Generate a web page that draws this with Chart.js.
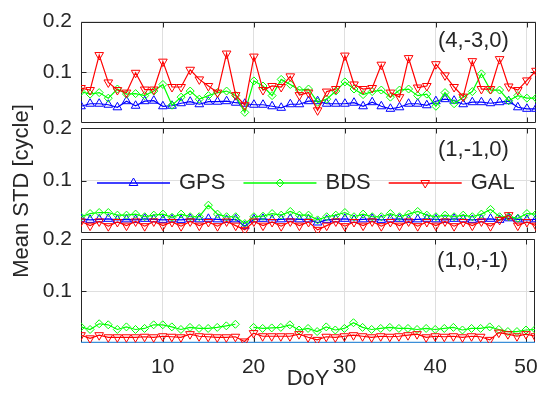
<!DOCTYPE html>
<html><head><meta charset="utf-8">
<script src="https://cdn.jsdelivr.net/npm/chart.js@4.4.0/dist/chart.umd.min.js"></script>
<style>
html,body{margin:0;padding:0;background:#fff;}
#wrap{position:relative;width:550px;height:395px;background:#fff;}
#wrap canvas{position:absolute;left:0;top:0;}
</style></head><body>
<div id="wrap">
<canvas id="c1" width="550" height="395"></canvas>
<canvas id="c2" width="550" height="395"></canvas>
<canvas id="c3" width="550" height="395"></canvas>
</div>
<script>
// ---------------- data ----------------
const days = [1,2,3,4,5,6,7,8,9,10,11,12,13,14,15,16,17,18,19,20,21,22,23,24,25,26,27,28,29,30,31,32,33,34,35,36,37,38,39,40,41,42,43,44,45,46,47,48,49,50,51];
const xTicks = [10,20,30,40,50];
const yTicks = [0.1,0.2];
const seriesNames = ['GPS','BDS','GAL'];
const panelLabels = ['(4,-3,0)','(1,-1,0)','(1,0,-1)'];
const xTitle = 'DoY';
const yTitle = 'Mean STD [cycle]';

// panel 1 (4,-3,0)
const gps1 = [0.033,0.038,0.038,0.036,0.031,0.043,0.034,0.043,0.044,0.033,
  0.034,0.039,0.042,0.037,0.042,0.042,0.043,0.040,0.038,0.036,
  0.036,0.033,0.030,0.037,0.037,0.043,0.043,0.038,0.038,0.038,
  0.040,0.033,0.041,0.033,0.028,0.031,0.038,0.038,0.035,0.043,
  0.047,0.044,0.037,0.041,0.041,0.039,0.041,0.043,0.031,0.028,0.028];
const bds1 = [0.062,0.057,0.060,0.049,0.067,0.057,0.058,0.054,0.063,0.076,
  0.035,0.051,0.063,0.047,0.054,0.060,0.063,0.054,0.021,0.083,
  0.073,0.054,0.086,0.076,0.065,0.067,0.041,0.047,0.063,0.081,
  0.067,0.056,0.062,0.065,0.051,0.065,0.067,0.054,0.057,0.033,
  0.060,0.038,0.051,0.062,0.097,0.065,0.065,0.044,0.054,0.049,0.049];
const gal1 = [0.069,0.065,0.134,0.080,0.065,0.060,0.099,0.066,0.066,0.121,
  0.071,0.071,0.105,0.086,0.073,0.060,0.137,0.055,0.035,0.131,
  0.065,0.073,0.071,0.092,0.055,0.060,0.025,0.062,0.067,0.133,
  0.076,0.067,0.069,0.115,0.060,0.051,0.128,0.070,0.073,0.116,
  0.094,0.071,0.052,0.122,0.067,0.067,0.126,0.072,0.065,0.084,0.103];

// panel 2 (1,-1,0)
const gps2 = [0.027,0.025,0.026,0.027,0.025,0.026,0.025,0.027,0.026,0.025,
  0.026,0.025,0.027,0.026,0.027,0.026,0.025,0.026,0.013,0.026,
  0.027,0.025,0.026,0.027,0.026,0.026,0.020,0.025,0.026,0.027,
  0.025,0.026,0.027,0.025,0.026,0.027,0.025,0.026,0.027,0.026,
  0.025,0.027,0.026,0.025,0.026,0.027,0.025,0.028,0.026,0.025,0.026];
const bds2 = [0.031,0.037,0.039,0.039,0.034,0.034,0.036,0.031,0.034,0.036,
  0.030,0.036,0.031,0.031,0.053,0.036,0.031,0.031,0.018,0.031,
  0.032,0.037,0.034,0.041,0.034,0.034,0.025,0.031,0.034,0.039,
  0.031,0.036,0.031,0.031,0.037,0.031,0.036,0.041,0.034,0.031,
  0.034,0.031,0.034,0.031,0.036,0.045,0.031,0.031,0.028,0.037,0.036];
const gal2 = [0.022,0.014,0.022,0.013,0.021,0.014,0.022,0.013,0.022,0.014,
  0.021,0.013,0.022,0.014,0.021,0.013,0.022,0.014,0.006,0.022,
  0.014,0.021,0.013,0.022,0.014,0.021,0.006,0.014,0.022,0.013,
  0.021,0.014,0.022,0.013,0.021,0.014,0.022,0.013,0.021,0.014,
  0.022,0.013,0.021,0.014,0.022,0.013,0.025,0.034,0.014,0.021,0.014];

// panel 3 (1,0,-1)
const gps3 = [0,0,0,0,0,0,0,0,0,0,0,0,0,0,0,0,0,0,0,0,0,0,0,0,0,0,0,0,0,0,0,0,0,0,0,0,0,0,0,0,0,0,0,0,0,0,0,0,0,0,0];
const bds3 = [0.031,0.026,0.037,0.035,0.026,0.031,0.026,0.028,0.035,0.035,
  0.031,0.026,0.030,0.028,0.028,0.030,0.033,0.036,null,0.030,
  0.028,0.029,0.030,0.035,0.025,0.028,0.022,0.031,0.025,0.028,
  0.039,0.030,0.026,0.028,0.030,0.028,0.028,0.026,0.028,0.026,
  0.028,0.030,0.025,0.028,0.028,0.031,0.026,0.022,0.022,0.025,0.026];
const gal3 = [0.015,0.009,0.015,0.011,0.011,0.011,0.011,0.012,0.011,0.013,
  0.012,0.011,0.017,0.013,0.012,0.011,0.011,0.012,0.003,0.019,
  0.013,0.013,0.013,0.013,0.017,0.011,0.006,0.012,0.011,0.013,
  0.015,0.013,0.011,0.013,0.012,0.013,0.015,0.017,0.011,0.013,
  0.012,0.013,0.011,0.013,0.012,0.006,0.020,0.017,0.013,0.017,0.013];

// ---------------- styling ----------------
const FONT = "'Liberation Sans', Arial, Helvetica, sans-serif";
const TXT = '#262626';
const GRID = '#dfdfdf';
Chart.defaults.font.family = FONT;
Chart.defaults.color = TXT;

const styles = [
  {color:'#0000ff', pointStyle:'triangle', rotation:0, radius:5, order:3},
  {color:'#00ff00', pointStyle:'rectRot', rotation:0, radius:4, order:2},
  {color:'#ff0000', pointStyle:'triangle', rotation:180, radius:5, order:1}
];

function pts(arr){ return days.map((d,i)=>({x:d, y:arr[i]})); }

function makeDs(arrs, gpsFlat){
  return arrs.map((a,i)=>{
    const s = styles[i];
    const ds = {
      label: seriesNames[i], data: pts(a),
      borderColor: s.color, backgroundColor: 'rgba(0,0,0,0)',
      borderWidth: 1.2, pointStyle: s.pointStyle, rotation: s.rotation,
      pointRadius: s.radius, pointBorderWidth: 1,
      pointBorderColor: s.color, pointBackgroundColor: 'rgba(0,0,0,0)',
      tension: 0, spanGaps: false, order: s.order
    };
    if (i === 0 && gpsFlat) {
      ds.borderColor = '#3b8ed8'; ds.borderWidth = 2.5; ds.pointRadius = 0;
    }
    return ds;
  });
}

const framePlugin = {
  id: 'panelFrame',
  beforeDatasetsDraw(chart, args, opts){
    const {ctx, chartArea:a} = chart;
    const xs = chart.scales.x, ys = chart.scales.y;
    ctx.save();
    ctx.strokeStyle = TXT; ctx.lineWidth = 1;
    const L = Math.round(a.left)+0.5, R = Math.round(a.right)-0.5;
    const T = Math.round(a.top)+0.5, B = Math.round(a.bottom)-0.5;
    ctx.beginPath();
    ctx.rect(L, T, R-L, B-T);
    xTicks.forEach(v=>{
      const x = Math.round(xs.getPixelForValue(v))+0.5;
      ctx.moveTo(x, T); ctx.lineTo(x, T+5);
      ctx.moveTo(x, B); ctx.lineTo(x, B-5);
    });
    yTicks.forEach(v=>{
      const y = Math.round(ys.getPixelForValue(v))+0.5;
      ctx.moveTo(L, y); ctx.lineTo(L+5, y);
      ctx.moveTo(R, y); ctx.lineTo(R-5, y);
    });
    ctx.stroke();
    ctx.restore();
  },
  afterDatasetsDraw(chart, args, opts){
    const {ctx, chartArea:a} = chart;
    ctx.save();
    // panel label
    ctx.fillStyle = TXT;
    ctx.font = '22px ' + FONT;
    ctx.textAlign = 'left'; ctx.textBaseline = 'middle';
    ctx.fillText(opts.label, a.right - 98, a.top + opts.labelDy);
    // inside legend
    if (opts.legend) {
      let x = a.left + 16;
      const y = a.top + 55;
      chart.data.datasets.forEach((ds, i)=>{
        const s = styles[i];
        ctx.save();
        ctx.strokeStyle = s.color;
        ctx.lineWidth = 1.3;
        ctx.beginPath();
        ctx.moveTo(x, y);
        ctx.lineTo(x + 73, y);
        ctx.stroke();
        ctx.fillStyle = 'rgba(255,255,255,0)';
        ctx.lineWidth = 1;
        Chart.helpers.drawPoint(ctx, {pointStyle:s.pointStyle, rotation:s.rotation, radius:s.radius, borderWidth:1}, x + 36.5, y);
        ctx.restore();
        ctx.fillStyle = TXT;
        ctx.font = '22px ' + FONT;
        ctx.textAlign = 'left'; ctx.textBaseline = 'middle';
        ctx.fillText(ds.label, x + 82, y);
        x += 82 + ctx.measureText(ds.label).width + 18;
      });
    }
    ctx.restore();
  }
};

function yScale(width){
  return {
    type:'linear', min:0, max:0.2,
    afterBuildTicks: s => { s.ticks = yTicks.map(v=>({value:v})); },
    afterFit: s => { s.width = width; },
    grid:{color:GRID, drawTicks:false}, border:{display:false},
    ticks:{padding:9, font:{size:21}, color:TXT, callback: v => v.toFixed(1)}
  };
}
function xScale(height, showLabels){
  const sc = {
    type:'linear', min:1, max:51,
    afterBuildTicks: s => { s.ticks = xTicks.map(v=>({value:v})); },
    afterFit: s => { s.height = height; },
    grid:{color:GRID, drawTicks:false}, border:{display:false},
    ticks:{display:showLabels, padding:12, font:{size:21}, color:TXT}
  };
  if (showLabels) sc.title = {display:true, text:xTitle, font:{size:22}, color:TXT, padding:0};
  return sc;
}

function commonOpts(){
  return {responsive:false, animation:false, devicePixelRatio:1,
    events:[], plugins:{legend:{display:false}, tooltip:{enabled:false}}};
}

// panel 1
{
  const o = commonOpts();
  o.layout = {padding:{top:19, bottom:272, left:0, right:14}};
  o.scales = {x:xScale(0,false), y:yScale(81)};
  o.plugins.panelFrame = {label:panelLabels[0], labelDy:19, legend:false};
  new Chart(document.getElementById('c1'), {type:'line', data:{datasets:makeDs([gps1,bds1,gal1],false)}, options:o, plugins:[framePlugin]});
}
// panel 2 (hosts y title and legend)
{
  const o = commonOpts();
  o.layout = {padding:{top:0, bottom:13, left:0, right:14}};
  o.scales = {
    xTop:{type:'linear', position:'top', min:1, max:51, display:true,
      afterFit: s => { s.height = 128; },
      grid:{display:false}, border:{display:false}, ticks:{display:false}},
    x:xScale(149,false), y:yScale(45.6)};
  o.plugins.title = {display:true, text:yTitle, position:'left', font:{size:22, weight:'normal'}, color:TXT, padding:{top:9, bottom:0}};
  o.plugins.panelFrame = {label:panelLabels[1], labelDy:22, legend:true};
  new Chart(document.getElementById('c2'), {type:'line', data:{datasets:makeDs([gps2,bds2,gal2],false)}, options:o, plugins:[framePlugin]});
}
// panel 3 (hosts x labels and title)
{
  const o = commonOpts();
  o.layout = {padding:{top:239, bottom:3, left:0, right:14}};
  o.scales = {x:xScale(49,true), y:yScale(81)};
  o.plugins.panelFrame = {label:panelLabels[2], labelDy:22, legend:false};
  new Chart(document.getElementById('c3'), {type:'line', data:{datasets:makeDs([gps3,bds3,gal3],true)}, options:o, plugins:[framePlugin]});
}
</script>
</body></html>
